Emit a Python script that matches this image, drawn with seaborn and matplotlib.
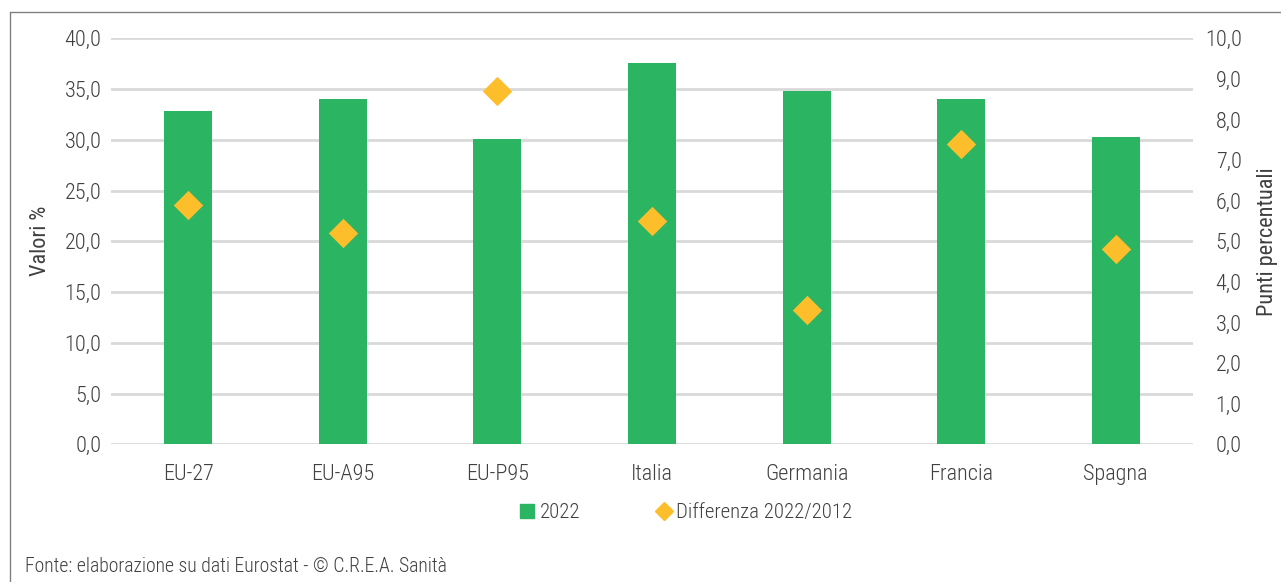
import matplotlib
matplotlib.use("Agg")
import matplotlib.pyplot as plt
from matplotlib.lines import Line2D
from matplotlib.ticker import FuncFormatter, MultipleLocator
import pandas as pd
import seaborn as sns

# Data
paesi = ["EU-27", "EU-A95", "EU-P95", "Italia", "Germania", "Francia", "Spagna"]
valori_2022 = [32.8, 34.0, 30.1, 37.6, 34.8, 34.0, 30.3]
diff_2022_2012 = [5.9, 5.2, 8.7, 5.5, 3.3, 7.4, 4.8]

green = "#2BB461"
gold = "#FDBE2B"
txt = "#404040"
grid_col = "#D9D9D9"

sns.set_theme(style="white")
plt.rcParams["font.family"] = ["Roboto Condensed", "DejaVu Sans"]
plt.rcParams["font.weight"] = "light"
plt.rcParams["text.color"] = txt
plt.rcParams["axes.labelcolor"] = txt
plt.rcParams["xtick.color"] = txt
plt.rcParams["ytick.color"] = txt

fs = 16

df = pd.DataFrame({"paese": paesi, "v2022": valori_2022, "diff": diff_2022_2012})

fig = plt.figure(figsize=(12.81, 5.82), dpi=100)
ax = fig.add_axes([111 / 1281, 1 - 444.3 / 582, (1193 - 111) / 1281, (444.3 - 38.3) / 582])

sns.barplot(data=df, x="paese", y="v2022", color=green, width=0.31, ax=ax,
            saturation=1, linewidth=0)
ax.set_ylim(0, 40)
ax.set_xlim(-0.5, 6.5)
ax.yaxis.set_major_locator(MultipleLocator(5))
ax.yaxis.grid(True, color=grid_col, linewidth=2)
ax.set_axisbelow(True)
fmt = FuncFormatter(lambda v, p: f"{v:.1f}".replace(".", ","))
ax.yaxis.set_major_formatter(fmt)
ax.tick_params(axis="y", length=0, pad=7, labelsize=fs)
ax.tick_params(axis="x", length=0, pad=14.5, labelsize=fs)
ax.set_xlabel("")
ax.set_ylabel("Valori %", fontsize=fs, labelpad=10)
for s in ax.spines.values():
    s.set_visible(False)

ax2 = ax.twinx()
sns.stripplot(data=df, x="paese", y="diff", jitter=False, marker="D", size=15,
              color=gold, linewidth=0, ax=ax2, zorder=5)
ax2.set_ylim(0, 10)
ax2.set_xlim(-0.5, 6.5)
ax2.yaxis.set_major_locator(MultipleLocator(1))
ax2.yaxis.set_major_formatter(fmt)
ax2.tick_params(axis="y", length=0, pad=35, labelsize=fs)
for lab in ax2.get_yticklabels():
    lab.set_horizontalalignment("right")
ax2.set_ylabel("Punti percentuali", fontsize=fs, labelpad=11)
ax2.grid(False)
for s in ax2.spines.values():
    s.set_visible(False)

handles = [
    Line2D([], [], marker="s", linestyle="none", markersize=10.5, color=green),
    Line2D([], [], marker="D", linestyle="none", markersize=9.5, color=gold),
]
fig.legend(handles, ["2022", "Differenza 2022/2012"], loc="center",
           bbox_to_anchor=(684.5 / 1281, 1 - 512.7 / 582), ncol=2, frameon=False,
           fontsize=15, handletextpad=0.1, columnspacing=3.5, handlelength=1.0)

fig.text(25 / 1281, 1 - 566 / 582, "Fonte: elaborazione su dati Eurostat - \u00a9 C.R.E.A. Sanit\u00e0",
         fontsize=14.2, va="center", ha="left")

# outer frame (top and left edges)
fig.add_artist(Line2D([9.5 / 1281, 9.5 / 1281], [0, 1 - 12 / 582], color="#808080", lw=1,
                      transform=fig.transFigure))
fig.add_artist(Line2D([9.5 / 1281, 1], [1 - 12 / 582, 1 - 12 / 582], color="#808080", lw=1,
                      transform=fig.transFigure))

fig.savefig("out.png", dpi=100)
